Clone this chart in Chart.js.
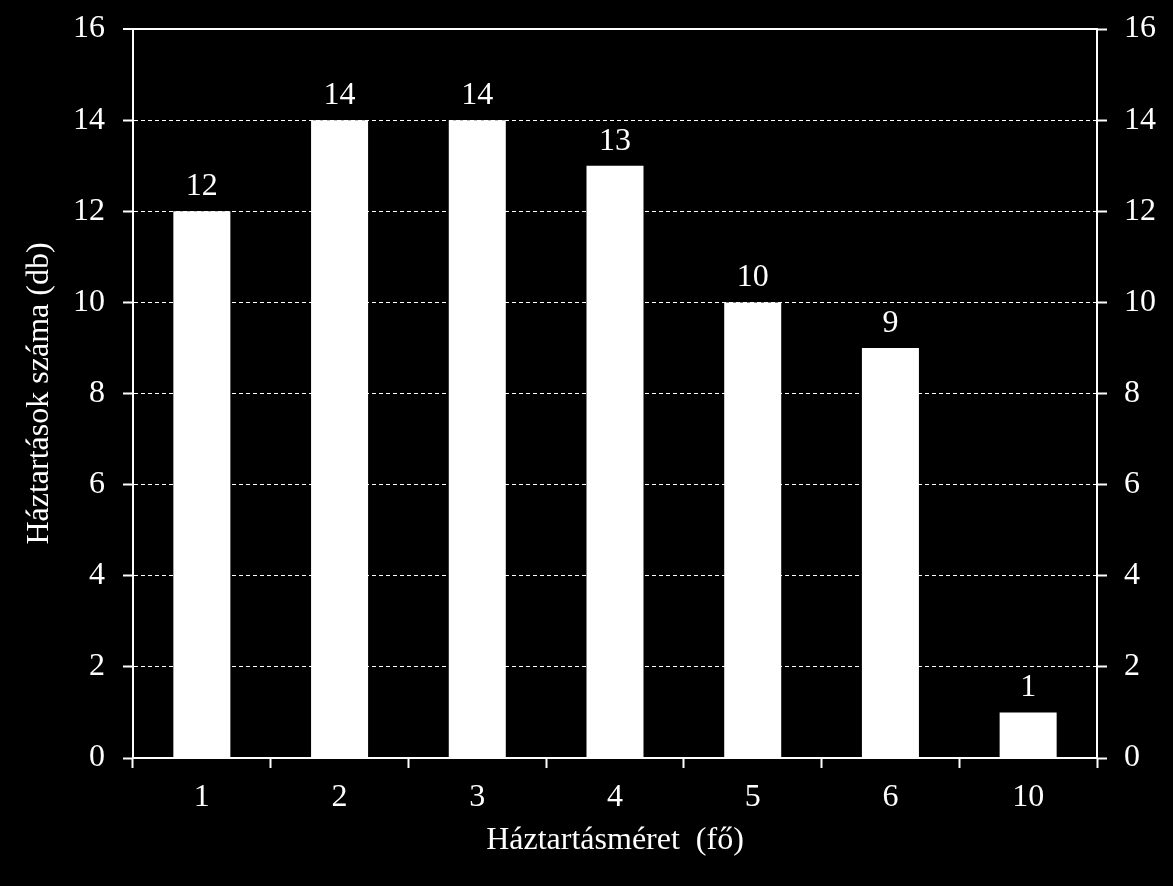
<!DOCTYPE html>
<html>
<head>
<meta charset="utf-8">
<script src="https://cdn.jsdelivr.net/npm/chart.js@4/dist/chart.umd.min.js"></script>
<style>
  html, body { margin: 0; padding: 0; background: #000; }
  canvas { display: block; background: #000; }
</style>
</head>
<body>
<canvas id="hhChart" width="1173" height="886"></canvas>
<script>
/* household size distribution - bar chart */
const sizes = ['1', '2', '3', '4', '5', '6', '10'];
const counts = [12, 14, 14, 13, 10, 9, 1];
const yTicks = [0, 2, 4, 6, 8, 10, 12, 14, 16];
const xTitle = 'Háztartásméret  (fő)';
const yTitle = 'Háztartások száma (db)';

const FONT = '"Liberation Serif", "Times New Roman", serif';
const WHITE = '#ffffff';

// value labels on top of the bars
const barLabels = {
  id: 'barLabels',
  afterDatasetsDraw(chart) {
    const ctx = chart.ctx;
    const meta = chart.getDatasetMeta(0);
    ctx.save();
    ctx.font = '32px ' + FONT;
    ctx.fillStyle = WHITE;
    ctx.textAlign = 'center';
    ctx.textBaseline = 'alphabetic';
    meta.data.forEach((bar, i) => {
      ctx.fillText(String(counts[i]), bar.x, bar.y - 16);
    });
    ctx.restore();
  }
};

const yMax = yTicks[yTicks.length - 1];
const step = yTicks[1] - yTicks[0];

// fixed axis sizes so the plot box lands where the original has it
function fixVertical(width) {
  return s => {
    s.width = width;
    s.paddingTop = 0;
    s.paddingBottom = 0;
  };
}

new Chart(document.getElementById('hhChart'), {
  type: 'bar',
  data: {
    labels: sizes,
    datasets: [{
      data: counts,
      backgroundColor: WHITE,
      borderWidth: 0,
      barPercentage: 0.414,
      categoryPercentage: 1
    }]
  },
  options: {
    responsive: false,
    animation: false,
    devicePixelRatio: 1,
    layout: { padding: { top: 29, left: 0, right: 0, bottom: 0 } },
    plugins: { legend: { display: false }, tooltip: { enabled: false } },
    scales: {
      x: {
        type: 'category',
        afterFit: s => { s.height = 128; },
        grid: {
          offset: true, drawOnChartArea: false, drawTicks: true,
          tickLength: 10, tickWidth: 2, tickColor: WHITE
        },
        border: { display: true, color: WHITE, width: 2 },
        ticks: { color: WHITE, padding: 10, font: { family: FONT, size: 32 } },
        title: {
          display: true, text: xTitle, color: WHITE,
          font: { family: FONT, size: 32 }, padding: { top: 0, bottom: 26 }
        }
      },
      y: {
        position: 'left',
        min: 0, max: yMax,
        afterFit: fixVertical(133),
        ticks: { stepSize: step, color: WHITE, padding: 18, font: { family: FONT, size: 32 } },
        grid: {
          color: WHITE,
          lineWidth: c => (c.tick && c.tick.value === yMax ? 2 : 1),
          tickLength: 10, tickWidth: 2, tickColor: WHITE
        },
        border: {
          display: true, color: WHITE, width: 2,
          dash: c => (c.tick && c.tick.value !== yMax ? [4, 3] : [])
        },
        title: {
          display: true, text: yTitle, color: WHITE,
          font: { family: FONT, size: 32 }, padding: { top: 20, bottom: 0 }
        }
      },
      y2: {
        position: 'right',
        min: 0, max: yMax,
        afterFit: fixVertical(76),
        ticks: { stepSize: step, color: WHITE, padding: 17, font: { family: FONT, size: 32 } },
        grid: {
          drawOnChartArea: false, tickLength: 10, tickWidth: 2, tickColor: WHITE
        },
        border: { display: true, color: WHITE, width: 2 }
      }
    }
  },
  plugins: [barLabels]
});
</script>
</body>
</html>
